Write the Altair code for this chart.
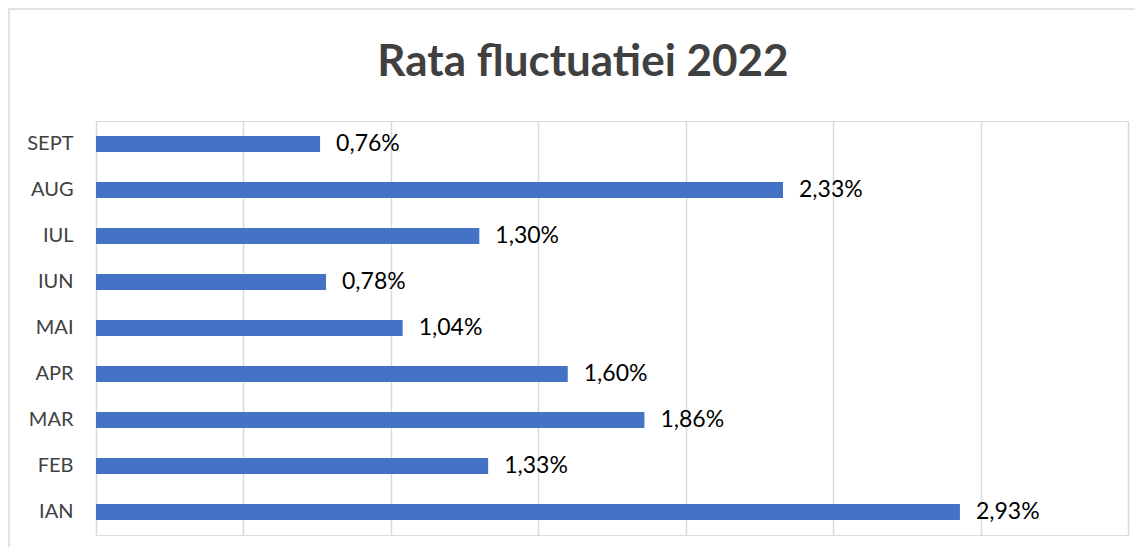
import altair as alt
import pandas as pd

months = ["IAN", "FEB", "MAR", "APR", "MAI", "IUN", "IUL", "AUG", "SEPT"]
values = [2.93, 1.33, 1.86, 1.60, 1.04, 0.78, 1.30, 2.33, 0.76]
grid_ticks = [0, 0.5, 1.0, 1.5, 2.0, 2.5, 3.0, 3.5]

df = pd.DataFrame({"luna": months, "rata": values})

order = list(reversed(months))

x_enc = alt.X("rata:Q", scale=alt.Scale(domain=[0, 3.5], nice=False),
              axis=alt.Axis(values=grid_ticks, labels=False, ticks=False, domain=False,
                            grid=True, gridColor="#d9d9d9", gridWidth=1.5, title=None))
y_enc = alt.Y("luna:N", sort=order,
              scale=alt.Scale(paddingInner=0.0, paddingOuter=0.0),
              axis=alt.Axis(ticks=False, domain=False, grid=False, title=None,
                            labelFont="Lato", labelFontSize=20, labelColor="#404040",
                            labelPadding=23))

base = alt.Chart(df)

bars = base.mark_bar(color="#4472C4", size=16).encode(x=x_enc, y=y_enc)

labels = base.transform_calculate(
    lbl="replace(format(datum.rata, '.2f'), '.', ',') + '%'"
).mark_text(align="left", baseline="middle", dx=16, font="Lato", fontSize=23,
            color="#000000").encode(x="rata:Q", y=alt.Y("luna:N", sort=order), text="lbl:N")

border = alt.Chart(pd.DataFrame({"k": [0]})).mark_rect(
    fill=None, stroke="#d9d9d9", strokeWidth=1.5
).encode(x=alt.value(-87), x2=alt.value(1060), y=alt.value(-112), y2=alt.value(460))

chart = alt.layer(border, bars, labels).properties(
    width=1032, height=414,
    autosize=alt.AutoSizeParams(type="none"),
    padding={"left": 88, "top": 113, "right": 7, "bottom": 12},
    title=alt.TitleParams("Rata fluctuatiei 2022", font="Lato", fontSize=44,
                          fontWeight="bold", color="#404040", anchor="middle",
                          baseline="alphabetic", offset=-112, dx=-29),
).configure_view(stroke=None).configure(background="white")

chart.save("out.html", embed_options={"renderer": "svg", "actions": False})
